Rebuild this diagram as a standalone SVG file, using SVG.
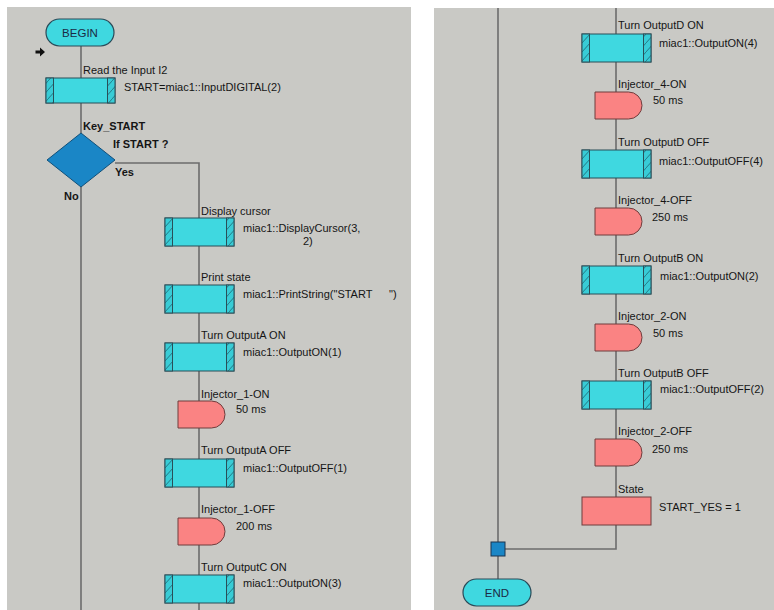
<svg xmlns="http://www.w3.org/2000/svg" xmlns:xlink="http://www.w3.org/1999/xlink" width="774" height="610" viewBox="0 0 774 610">
<style>
text{font-family:"Liberation Sans",Arial,sans-serif;font-size:11px;fill:#151515}
.b{font-weight:bold}
.t{font-size:11.5px;fill:#1b2a45;text-anchor:middle}
.wire{fill:none;stroke:#6c6c6c;stroke-width:1.6}
.proc{fill:#3fd8e0;stroke:#2a4f58;stroke-width:1}
.hatch{fill:url(#hp);stroke:#2a4f58;stroke-width:1}
.delay{fill:#fa8383;stroke:#6e3c3c;stroke-width:1}
.term{fill:#3fd8e0;stroke:#2a4a58;stroke-width:1.2}
</style>
<defs>
<pattern id="hp" patternUnits="userSpaceOnUse" width="8" height="9">
<rect width="8" height="9" fill="#38ccd6"/>
<path d="M-1,10 L9,-1" stroke="#1f6f7c" stroke-width="0.9"/>
</pattern>
<g id="pbox">
<rect class="proc" x="0" y="0" width="69" height="28"/>
<rect class="hatch" x="0" y="0" width="7.5" height="28"/>
<rect class="hatch" x="61.5" y="0" width="7.5" height="28"/>
</g>
<path id="dly" class="delay" d="M0,0 H33.5 A13.5,13.5 0 0 1 33.5,27 H0 Z"/>
</defs>
<rect width="774" height="610" fill="#ffffff"/>
<rect x="7" y="7" width="404" height="603" fill="#c9c9c5"/>
<rect x="434" y="8" width="340" height="602" fill="#c9c9c5"/>

<g id="connectors">
<path class="wire" d="M81,46 V133"/>
<path class="wire" d="M81,187 V610"/>
<path class="wire" d="M115,163 H199 V610"/>
<path class="wire" d="M498,8 V579"/>
<path class="wire" d="M616,8 V549 H505"/>
</g>

<g id="begin">
<rect class="term" x="46" y="19" width="68" height="27" rx="13.5"/>
<text class="t" x="80" y="37">BEGIN</text>
</g>
<g id="start-arrow">
<path d="M35.5,50.6 H40 V47.5 L45,52 L40,56.5 V53.4 H35.5 Z" fill="#111"/>
</g>
<g id="read-input">
<rect class="proc" x="46" y="78" width="69" height="25"/>
<rect class="hatch" x="46" y="78" width="7.5" height="25"/>
<rect class="hatch" x="107.5" y="78" width="7.5" height="25"/>
<text x="83" y="74">Read the Input I2</text>
<text x="124" y="91">START=miac1::InputDIGITAL(2)</text>
</g>
<g id="key-start">
<path d="M81,133 L115,160 L81,187 L47,160 Z" fill="#1a86c6" stroke="#11507a" stroke-width="1"/>
<text class="b" x="83" y="130">Key_START</text>
<text class="b" x="113" y="148">If START ?</text>
<text class="b" x="115" y="176">Yes</text>
<text class="b" x="64" y="200">No</text>
</g>
<g id="display-cursor">
<use href="#pbox" x="165" y="218"/>
<text x="201" y="215">Display cursor</text>
<text x="243" y="232">miac1::DisplayCursor(3,</text>
<text x="303" y="245">2)</text>
</g>
<g id="print-state">
<use href="#pbox" x="165" y="285"/>
<text x="201" y="281">Print state</text>
<text x="243" y="298" xml:space="preserve">miac1::PrintString("START    <tspan x="389">")</tspan></text>
</g>
<g id="outA-on">
<use href="#pbox" x="165" y="343"/>
<text x="201" y="339">Turn OutputA ON</text>
<text x="243" y="356">miac1::OutputON(1)</text>
</g>
<g id="inj1-on">
<use href="#dly" x="178" y="401"/>
<text x="201" y="398">Injector_1-ON</text>
<text x="236" y="413">50 ms</text>
</g>
<g id="outA-off">
<use href="#pbox" x="165" y="459"/>
<text x="201" y="454">Turn OutputA OFF</text>
<text x="243" y="472">miac1::OutputOFF(1)</text>
</g>
<g id="inj1-off">
<use href="#dly" x="178" y="518"/>
<text x="201" y="513">Injector_1-OFF</text>
<text x="236" y="530">200 ms</text>
</g>
<g id="outC-on">
<use href="#pbox" x="165" y="575"/>
<text x="201" y="571">Turn OutputC ON</text>
<text x="243" y="587">miac1::OutputON(3)</text>
</g>

<g id="outD-on">
<use href="#pbox" x="582" y="34"/>
<text x="618" y="29">Turn OutputD ON</text>
<text x="659" y="47">miac1::OutputON(4)</text>
</g>
<g id="inj4-on">
<use href="#dly" x="595" y="92"/>
<text x="618" y="88">Injector_4-ON</text>
<text x="653" y="104">50 ms</text>
</g>
<g id="outD-off">
<use href="#pbox" x="582" y="150"/>
<text x="618" y="146">Turn OutputD OFF</text>
<text x="659" y="165">miac1::OutputOFF(4)</text>
</g>
<g id="inj4-off">
<use href="#dly" x="595" y="208"/>
<text x="618" y="204">Injector_4-OFF</text>
<text x="652" y="221">250 ms</text>
</g>
<g id="outB-on">
<use href="#pbox" x="582" y="266"/>
<text x="618" y="262">Turn OutputB ON</text>
<text x="660" y="280">miac1::OutputON(2)</text>
</g>
<g id="inj2-on">
<use href="#dly" x="595" y="324"/>
<text x="618" y="320">Injector_2-ON</text>
<text x="653" y="337">50 ms</text>
</g>
<g id="outB-off">
<use href="#pbox" x="582" y="381"/>
<text x="618" y="377">Turn OutputB OFF</text>
<text x="660" y="393">miac1::OutputOFF(2)</text>
</g>
<g id="inj2-off">
<use href="#dly" x="595" y="439"/>
<text x="618" y="435">Injector_2-OFF</text>
<text x="652" y="453">250 ms</text>
</g>
<g id="state">
<rect class="delay" x="582" y="497" width="69" height="28"/>
<text x="618" y="493">State</text>
<text x="659" y="511">START_YES = 1</text>
</g>
<g id="junction">
<rect x="491" y="542" width="14" height="14" fill="#1a86c6" stroke="#1a3550" stroke-width="1"/>
</g>
<g id="end">
<rect class="term" x="463" y="579" width="68" height="27" rx="13.5"/>
<text class="t" x="497" y="597">END</text>
</g>
</svg>
